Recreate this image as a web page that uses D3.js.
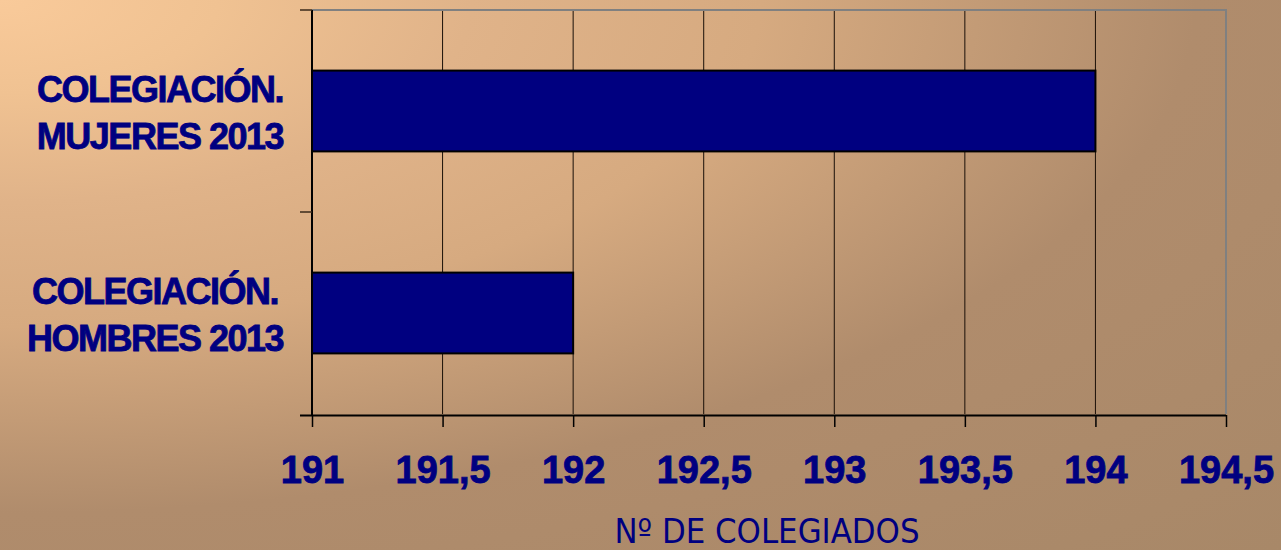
<!DOCTYPE html>
<html>
<head>
<meta charset="utf-8">
<script src="https://cdn.jsdelivr.net/npm/d3@7"></script>
<style>
  html, body { margin: 0; padding: 0; }
  svg { display: block; }
</style>
</head>
<body>
<svg id="chart" width="1281" height="550"></svg>
<script>
// data
const categories = ['MUJERES', 'HOMBRES'];
const categoryLines = [
  ['COLEGIACIÓN.', 'MUJERES 2013'],
  ['COLEGIACIÓN.', 'HOMBRES 2013'],
];
const values = [194, 192];
const tickValues = [191, 191.5, 192, 192.5, 193, 193.5, 194, 194.5];
const tickLabels = ['191', '191,5', '192', '192,5', '193', '193,5', '194', '194,5'];
const axisTitle = 'Nº DE COLEGIADOS';

const width = 1281;
const height = 550;
const margin = { top: 10, right: 55, bottom: 136, left: 312 };
const navy = '#000080';

const svg = d3.select('#chart');

// background: radial fade from the top-left corner
const defs = svg.append('defs');
const grad = defs.append('radialGradient')
  .attr('id', 'bg')
  .attr('gradientUnits', 'objectBoundingBox')
  .attr('cx', 0).attr('cy', 0)
  .attr('fx', 0).attr('fy', 0)
  .attr('r', 1.414);
[
  [0, '#f9ca9a'],
  [0.12, '#f0c292'],
  [0.26, '#e0b389'],
  [0.42, '#d6aa80'],
  [0.66, '#b08c6c'],
  [1, '#a88868'],
].forEach(([o, c]) => grad.append('stop').attr('offset', o).attr('stop-color', c));

svg.append('rect')
  .attr('width', width)
  .attr('height', height)
  .attr('fill', 'url(#bg)');

const x = d3.scaleLinear()
  .domain([191, 194.5])
  .range([margin.left, width - margin.right]);

const y = d3.scaleBand()
  .domain(categories)
  .range([margin.top, height - margin.bottom])
  .paddingInner(0.6)
  .paddingOuter(0.3);

const plotTop = margin.top;
const plotBottom = height - margin.bottom;

// grid lines
svg.append('g')
  .selectAll('line')
  .data(tickValues.slice(1, -1))
  .join('line')
  .attr('x1', d => x(d)).attr('x2', d => x(d))
  .attr('y1', plotTop).attr('y2', plotBottom)
  .attr('stroke', '#1a1008')
  .attr('stroke-width', 1);

// top and right frame
svg.append('path')
  .attr('d', `M${x(191)},${plotTop}H${x(194.5)}V${plotBottom}`)
  .attr('fill', 'none')
  .attr('stroke', '#808080')
  .attr('stroke-width', 2);

// bars
svg.append('g')
  .selectAll('rect')
  .data(values)
  .join('rect')
  .attr('x', x(191))
  .attr('y', (d, i) => y(categories[i]))
  .attr('width', d => x(d) - x(191))
  .attr('height', y.bandwidth())
  .attr('fill', navy)
  .attr('stroke', '#000')
  .attr('stroke-width', 2);

// x axis
const xAxis = svg.append('g')
  .attr('transform', `translate(0,${plotBottom + 1})`)
  .call(d3.axisBottom(x)
    .tickValues(tickValues)
    .tickFormat((d, i) => tickLabels[i])
    .tickSize(12)
    .tickSizeOuter(0));
xAxis.select('.domain').attr('stroke', '#000').attr('stroke-width', 2)
  .attr('d', `M${x(191) - 12},0.5H${x(194.5)}`);
xAxis.selectAll('.tick line').attr('stroke', '#000').attr('stroke-width', 1.5);
xAxis.selectAll('.tick text')
  .attr('y', 68)
  .attr('dy', 0)
  .attr('fill', navy)
  .attr('stroke', navy)
  .attr('stroke-width', 0.8)
  .style('font-family', '"Liberation Sans", Arial, sans-serif')
  .style('font-weight', 'bold')
  .style('font-size', '38px');

// y axis
const bandEdges = [plotTop, (plotTop + plotBottom) / 2];
const yAxis = svg.append('g');
yAxis.append('line')
  .attr('x1', x(191)).attr('x2', x(191))
  .attr('y1', plotTop).attr('y2', plotBottom + 1)
  .attr('stroke', '#000').attr('stroke-width', 2);
yAxis.selectAll('line.tk')
  .data(bandEdges)
  .join('line')
  .attr('class', 'tk')
  .attr('x1', x(191) - 12).attr('x2', x(191))
  .attr('y1', d => d).attr('y2', d => d)
  .attr('stroke', '#3a2a1a').attr('stroke-width', 1.5);

// category labels
const labelRight = 283;
const labels = svg.append('g')
  .selectAll('text')
  .data(categoryLines)
  .join('text')
  .attr('fill', navy)
  .attr('stroke', navy)
  .attr('stroke-width', 0.8)
  .style('font-family', '"Liberation Sans", Arial, sans-serif')
  .style('font-weight', 'bold')
  .style('font-size', '36px')
  .style('letter-spacing', '-1.5px')
  .attr('text-anchor', 'middle');

labels.each(function (lines, i) {
  const t = d3.select(this);
  const cy = y(categories[i]) + y.bandwidth() / 2;
  const spans = t.selectAll('tspan')
    .data(lines)
    .join('tspan')
    .attr('y', (d, j) => cy - 9 + j * 47)
    .text(d => d);
  let maxW = 0;
  spans.each(function () { maxW = Math.max(maxW, this.getComputedTextLength()); });
  spans.attr('x', labelRight - maxW / 2);
});

// axis title
svg.append('text')
  .attr('x', (x(191) + x(194.5)) / 2 - 2)
  .attr('y', 543)
  .attr('text-anchor', 'middle')
  .attr('fill', navy)
  .attr('textLength', 305)
  .attr('lengthAdjust', 'spacingAndGlyphs')
  .style('font-family', '"DejaVu Sans Condensed", "DejaVu Sans", sans-serif')
  .style('font-size', '34px')
  .text(axisTitle);
</script>
</body>
</html>
